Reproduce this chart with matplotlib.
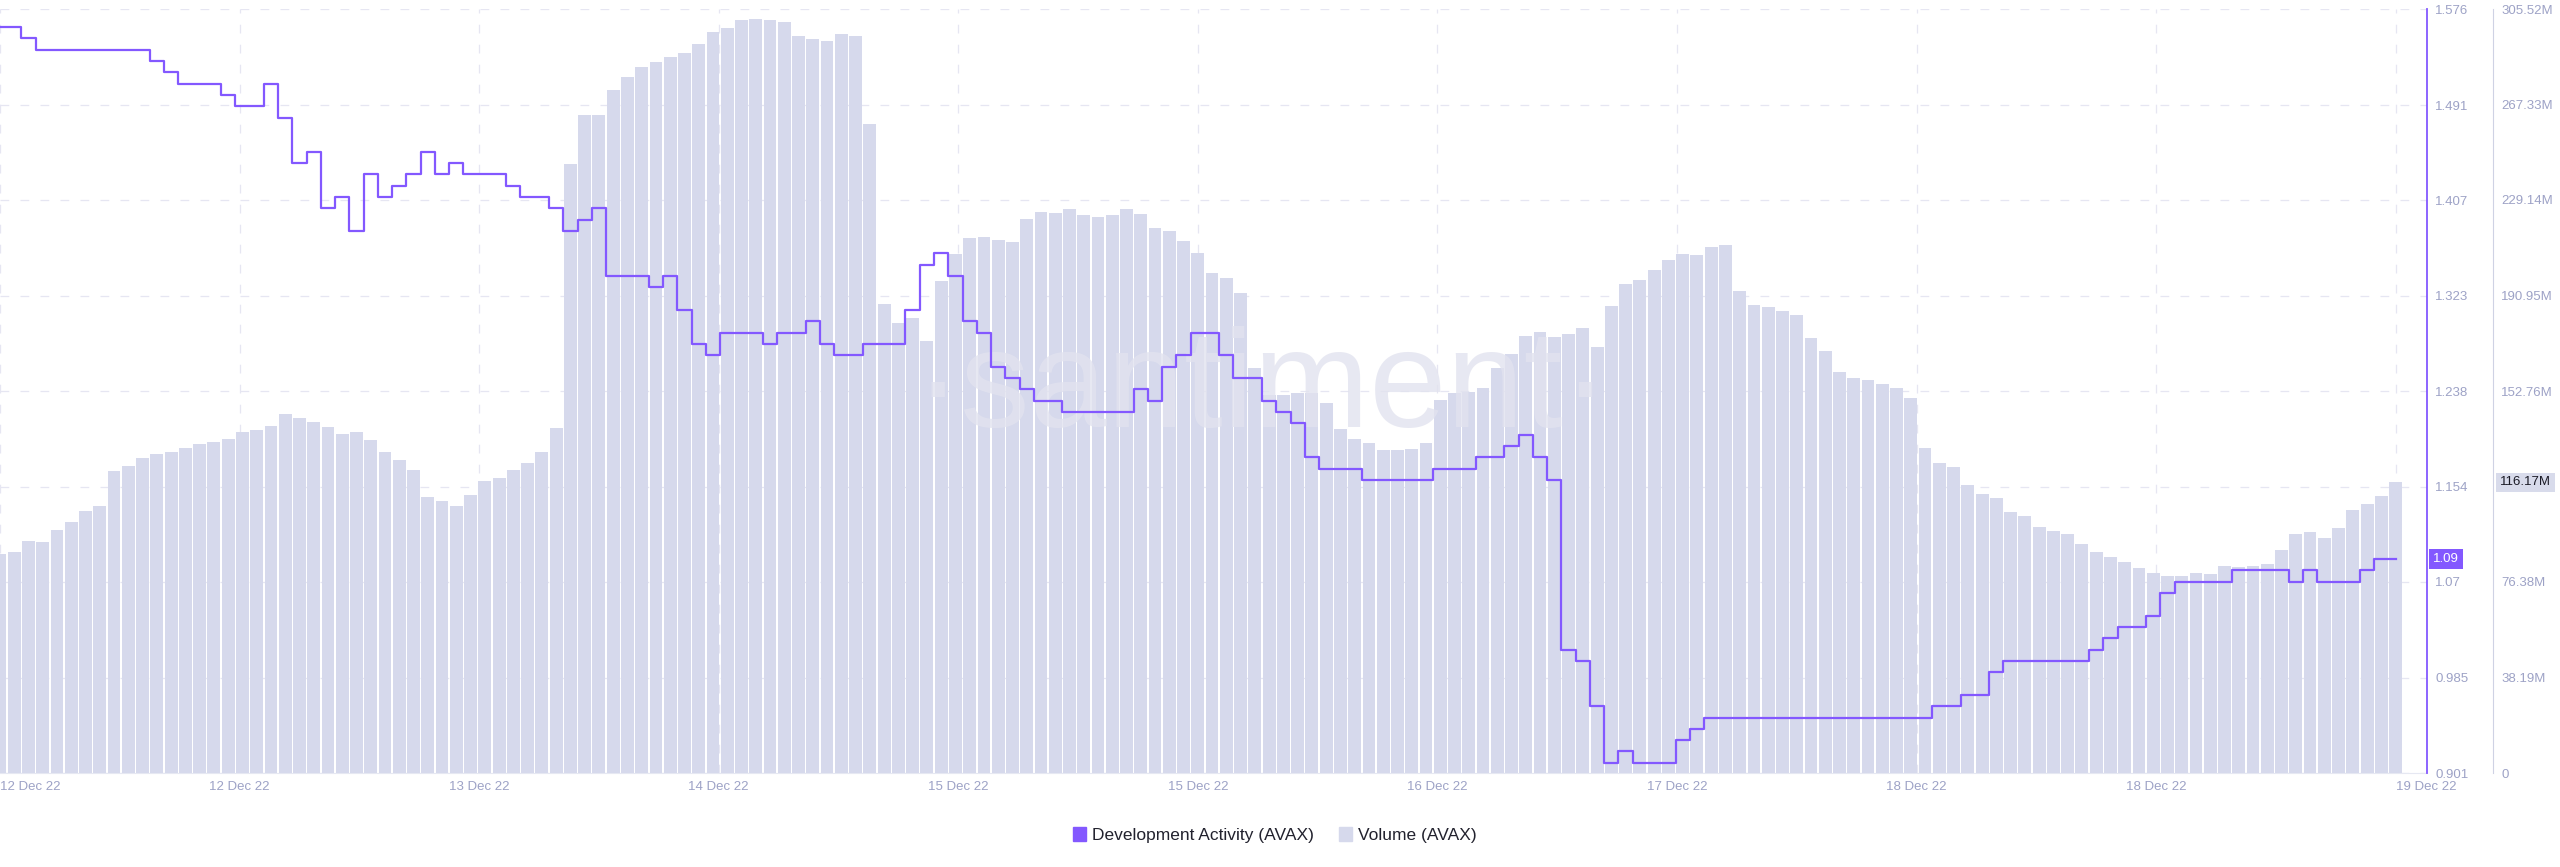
import numpy as np
import matplotlib
matplotlib.use('Agg')
import matplotlib.pyplot as plt
from matplotlib.patches import Patch
from matplotlib import transforms

plt.rcParams['font.family'] = ['Liberation Sans', 'DejaVu Sans']

# hourly samples, 12 Dec 22 -> 19 Dec 22
volume_m = [
    87.4, 88.3, 92.7, 92.3, 97.3, 100.3, 104.6, 106.6, 120.6, 122.7,
    126.1, 127.6, 128.4, 130.1, 131.4, 132.5, 133.6, 136.4, 137.0, 138.9,
    143.6, 142.0, 140.4, 138.5, 135.6, 136.4, 133.0, 128.4, 125.1,
    121.1, 110.2, 108.6, 106.6, 111.2, 116.9, 118.1, 121.1, 124.1, 128.5,
    137.9, 243.5, 263.0, 263.0, 273.3, 278.3, 282.2, 284.2, 286.2, 288.0,
    291.6, 296.2, 298.1, 301.1, 301.5, 301.1, 300.2, 294.8,
    293.5, 292.7, 295.5, 294.8, 259.4, 187.7, 179.8, 181.8, 172.9, 196.7,
    207.6, 214.0, 214.4, 213.2, 212.2, 221.5, 224.5, 224.1, 225.5, 223.2,
    222.5, 223.2, 225.5, 223.6, 218.0, 216.8, 212.7, 208.1,
    200.1, 197.8, 191.8, 161.9, 151.0, 151.0, 152.0, 152.0, 148.0, 137.6,
    133.7, 132.1, 129.1, 129.1, 129.5, 132.1, 149.0, 152.0, 152.4, 153.9,
    161.9, 167.5, 174.9, 176.2, 174.3, 175.4, 177.8, 170.3,
    186.8, 195.7, 197.3, 201.1, 205.3, 207.7, 207.2, 210.2, 211.1, 192.7,
    187.2, 186.2, 184.8, 183.0, 173.9, 168.8, 160.3, 157.9, 157.1, 155.6,
    154.0, 150.0, 130.1, 124.1, 122.5, 115.2, 111.6, 109.8,
    104.2, 102.7, 98.3, 96.7, 95.5, 91.7, 88.3, 86.3, 84.3, 81.9,
    80.0, 78.8, 78.8, 80.0, 79.4, 82.7, 82.3, 82.9, 83.7, 89.3,
    95.7, 96.3, 93.9, 97.9, 105.2, 107.4, 110.8, 116.17,
]

dev_activity = [
    1.56, 1.56, 1.55, 1.54, 1.54, 1.54, 1.54, 1.54, 1.54, 1.54,
    1.54, 1.53, 1.52, 1.51, 1.51, 1.51, 1.50, 1.49, 1.49, 1.51,
    1.48, 1.44, 1.45, 1.40, 1.41, 1.38, 1.43, 1.41, 1.42,
    1.43, 1.45, 1.43, 1.44, 1.43, 1.43, 1.43, 1.42, 1.41, 1.41,
    1.40, 1.38, 1.39, 1.40, 1.34, 1.34, 1.34, 1.33, 1.34, 1.31,
    1.28, 1.27, 1.29, 1.29, 1.29, 1.28, 1.29, 1.29,
    1.30, 1.28, 1.27, 1.27, 1.28, 1.28, 1.28, 1.31, 1.35, 1.36,
    1.34, 1.30, 1.29, 1.26, 1.25, 1.24, 1.23, 1.23, 1.22, 1.22,
    1.22, 1.22, 1.22, 1.24, 1.23, 1.26, 1.27, 1.29,
    1.29, 1.27, 1.25, 1.25, 1.23, 1.22, 1.21, 1.18, 1.17, 1.17,
    1.17, 1.16, 1.16, 1.16, 1.16, 1.16, 1.17, 1.17, 1.17, 1.18,
    1.18, 1.19, 1.20, 1.18, 1.16, 1.01, 1.00, 0.96,
    0.91, 0.92, 0.91, 0.91, 0.91, 0.93, 0.94, 0.95, 0.95, 0.95,
    0.95, 0.95, 0.95, 0.95, 0.95, 0.95, 0.95, 0.95, 0.95, 0.95,
    0.95, 0.95, 0.95, 0.96, 0.96, 0.97, 0.97, 0.99,
    1.00, 1.00, 1.00, 1.00, 1.00, 1.00, 1.01, 1.02, 1.03, 1.03,
    1.04, 1.06, 1.07, 1.07, 1.07, 1.07, 1.08, 1.08, 1.08, 1.08,
    1.07, 1.08, 1.07, 1.07, 1.07, 1.08, 1.09, 1.09,
]

date_labels = ['12 Dec 22', '12 Dec 22', '13 Dec 22', '14 Dec 22', '15 Dec 22', '15 Dec 22',
               '16 Dec 22', '17 Dec 22', '18 Dec 22', '18 Dec 22', '19 Dec 22']
dev_ticks = [0.901, 0.985, 1.07, 1.154, 1.238, 1.323, 1.407, 1.491, 1.576]
dev_tick_labels = ['0.901', '0.985', '1.07', '1.154', '1.238', '1.323', '1.407', '1.491', '1.576']
vol_ticks = [0, 38.19, 76.38, 114.57, 152.76, 190.95, 229.14, 267.33, 305.52]

PURPLE = '#8358ff'
BAR = '#d6d9ec'
TICK = '#9da2c6'
GRID = '#e6e6f2'

W, H = 2560, 867
fig = plt.figure(figsize=(W / 100, H / 100), dpi=100)
ax = fig.add_axes([0, 1 - 773 / H, 2427 / W, (773 - 9) / H])
ax2 = ax.twinx()

x = np.arange(len(volume_m))
ax.bar(x, volume_m, width=0.9, color=BAR, zorder=2)
ax.set_xlim(0, 170.2)
ax.set_ylim(0, vol_ticks[-1])

tick_pos = np.linspace(0, len(volume_m) - 1, len(date_labels))
ax.set_xticks(tick_pos)
ax.set_xticklabels(date_labels)
xl = ax.get_xticklabels()
xl[0].set_ha('left')
xl[-1].set_ha('left')
ax.tick_params(axis='x', length=0, pad=6, labelsize=9.5, labelcolor=TICK)

# volume axis sits to the right of the dev activity axis;
# the badge for the last value hides the label it lands on
last_vol = volume_m[-1]
vol_labels = []
for v in vol_ticks:
    if v == 0:
        vol_labels.append('0')
    elif abs(v - last_vol) < 8:
        vol_labels.append('')
    else:
        vol_labels.append(f'{v:.2f}M')
ax.yaxis.tick_right()
ax.set_yticks(vol_ticks)
ax.set_yticklabels(vol_labels)
ax.tick_params(axis='y', length=0, pad=6, labelsize=9.5, labelcolor=TICK)
ax.spines['right'].set_position(('axes', 2493 / 2427))
ax.spines['right'].set_color('#cfd2e4')
ax.spines['left'].set_visible(False)
ax.spines['top'].set_visible(False)
ax.spines['bottom'].set_color('#e6e8f2')

ax.set_axisbelow(True)
ax.grid(True, color=GRID, linestyle=(0, (7, 9)), linewidth=0.9)

ax.text(0.52, 0.5, '\u00b7santiment\u00b7', transform=ax.transAxes, fontsize=100,
        color='#e2e3ef', alpha=0.8, ha='center', va='center', zorder=3)

ax2.plot(x, dev_activity, color=PURPLE, linewidth=1.6, drawstyle='steps-mid', zorder=4)
ax2.set_ylim(dev_ticks[0], dev_ticks[-1])
ax2.set_yticks(dev_ticks)
ax2.set_yticklabels(dev_tick_labels)
ax2.tick_params(axis='y', length=0, pad=6, labelsize=9.5, labelcolor=TICK)
for s in ['left', 'top', 'bottom']:
    ax2.spines[s].set_visible(False)
ax2.spines['right'].set_color(PURPLE)
ax2.spines['right'].set_linewidth(1.3)

# last value badges
trans2 = transforms.blended_transform_factory(ax2.transAxes, ax2.transData)
ax2.text(1.0 + 6 / 2427, dev_activity[-1], f'{dev_activity[-1]:.2f}', transform=trans2,
         ha='left', va='center', color='white', fontsize=9.5, clip_on=False,
         bbox=dict(boxstyle='square,pad=0.28', fc=PURPLE, ec='none'))
trans1 = transforms.blended_transform_factory(ax.transAxes, ax.transData)
ax.text(2500 / 2427, last_vol, f'{last_vol:.2f}M', transform=trans1,
        ha='left', va='center', color='#1b1b26', fontsize=9.5, clip_on=False, zorder=5,
        bbox=dict(boxstyle='square,pad=0.28', fc='#d8dbeb', ec='none'))

handles = [Patch(color=PURPLE, label='Development Activity (AVAX)'),
           Patch(color=BAR, label='Volume (AVAX)')]
fig.legend(handles=handles, loc='center', bbox_to_anchor=(0.498, 1 - 835 / H), ncol=2,
           frameon=False, fontsize=12.5, handlelength=0.75, handleheight=0.9,
           handletextpad=0.35, columnspacing=1.4, labelcolor='#22222e')

fig.savefig('out.png', dpi=100)
